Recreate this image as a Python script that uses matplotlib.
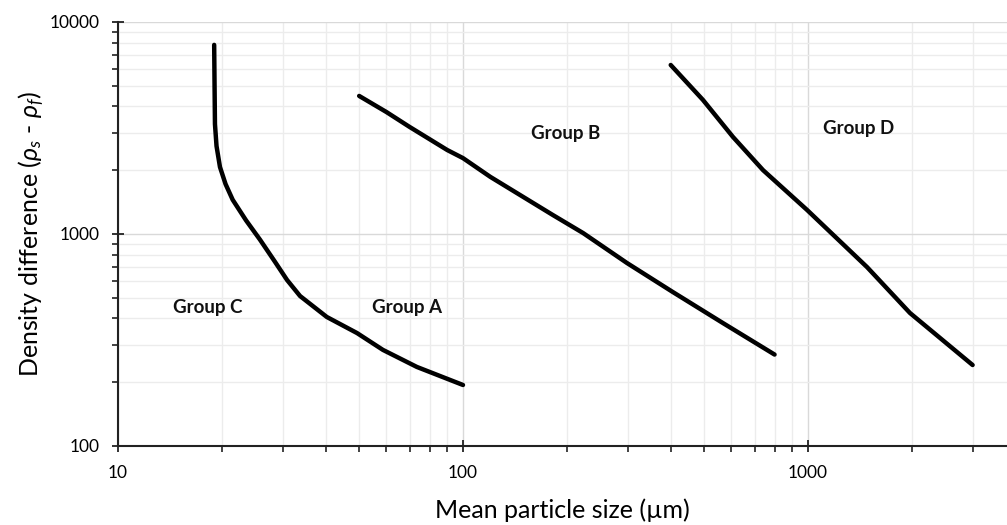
import matplotlib.pyplot as plt
from matplotlib.ticker import LogLocator, FixedLocator, NullFormatter

# boundary C / A
ca_size = [19.0, 19.05, 19.1, 19.3, 19.75, 20.5, 21.5, 23.5, 25.8, 28.5, 30.9, 33.7, 40.3, 49.3, 58.6, 73.5, 100]
ca_rho = [7800, 5000, 3300, 2600, 2070, 1720, 1450, 1160, 940, 740, 607, 510, 406, 341, 284, 236, 194]

# boundary A / B
ab_size = [50, 60, 70, 90, 100, 120, 182, 223, 299, 406, 567, 800]
ab_rho = [4480, 3760, 3200, 2490, 2280, 1860, 1230, 1010, 729, 532, 380, 270]

# boundary B / D
bd_size = [400, 496, 606, 741, 993, 1483, 1975, 3000]
bd_rho = [6270, 4290, 2870, 2000, 1300, 698, 424, 241]

group_names = ['Group C', 'Group A', 'Group B', 'Group D']
group_x = [18.2, 68.8, 198, 1400]
group_y = [448, 448, 2990, 3160]

plt.rcParams['font.family'] = ['Lato', 'DejaVu Sans']
plt.rcParams['mathtext.fontset'] = 'custom'
plt.rcParams['mathtext.rm'] = 'Lato'
plt.rcParams['mathtext.it'] = 'Lato:italic'

fig = plt.figure(figsize=(10.07, 5.25), dpi=100)
ax = fig.add_axes([118 / 1007, 1 - 446 / 525, 1 - 118 / 1007, (446 - 22) / 525])

for xs, ys in [(ca_size, ca_rho), (ab_size, ab_rho), (bd_size, bd_rho)]:
    ax.plot(xs, ys, color='black', lw=3.2, solid_capstyle='round', solid_joinstyle='round', zorder=3)

for name, gx, gy in zip(group_names, group_x, group_y):
    ax.text(gx, gy, name, ha='center', va='center', fontsize=13.5, fontweight='bold', color='#111111')

ax.set_xscale('log')
ax.set_yscale('log')
ax.set_xlim(10, 10 ** (1 + 889 / 345))
ax.set_ylim(100, 10000)

ax.xaxis.set_major_locator(FixedLocator([10, 100, 1000]))
ax.yaxis.set_major_locator(FixedLocator([100, 1000, 10000]))
ax.set_xticklabels(['10', '100', '1000'])
ax.set_yticklabels(['100', '1000', '10000'])
ax.xaxis.set_minor_locator(LogLocator(base=10, subs=range(2, 10), numticks=20))
ax.yaxis.set_minor_locator(LogLocator(base=10, subs=range(2, 10), numticks=20))
ax.xaxis.set_minor_formatter(NullFormatter())
ax.yaxis.set_minor_formatter(NullFormatter())

ax.grid(True, which='major', color='#d9d9d9', lw=1.0)
ax.grid(True, which='minor', color='#ececec', lw=1.0)
ax.set_axisbelow(True)

for side in ['top', 'right']:
    ax.spines[side].set_visible(False)
for side in ['left', 'bottom']:
    ax.spines[side].set_color('#222222')
    ax.spines[side].set_linewidth(1.5)

ax.tick_params(which='major', direction='inout', length=9, width=1.3, color='#222222',
               labelsize=12.5)
ax.tick_params(axis='y', which='major', pad=9)
ax.tick_params(axis='x', which='major', pad=9)
ax.tick_params(which='minor', direction='out', length=4, width=1.2, color='#222222')

ax.set_xlabel('Mean particle size (µm)', fontsize=18, labelpad=13)
ax.set_ylabel(r'Density difference ($\rho_s$ - $\rho_f$)', fontsize=18, labelpad=2)

fig.savefig('out.png', dpi=100)
